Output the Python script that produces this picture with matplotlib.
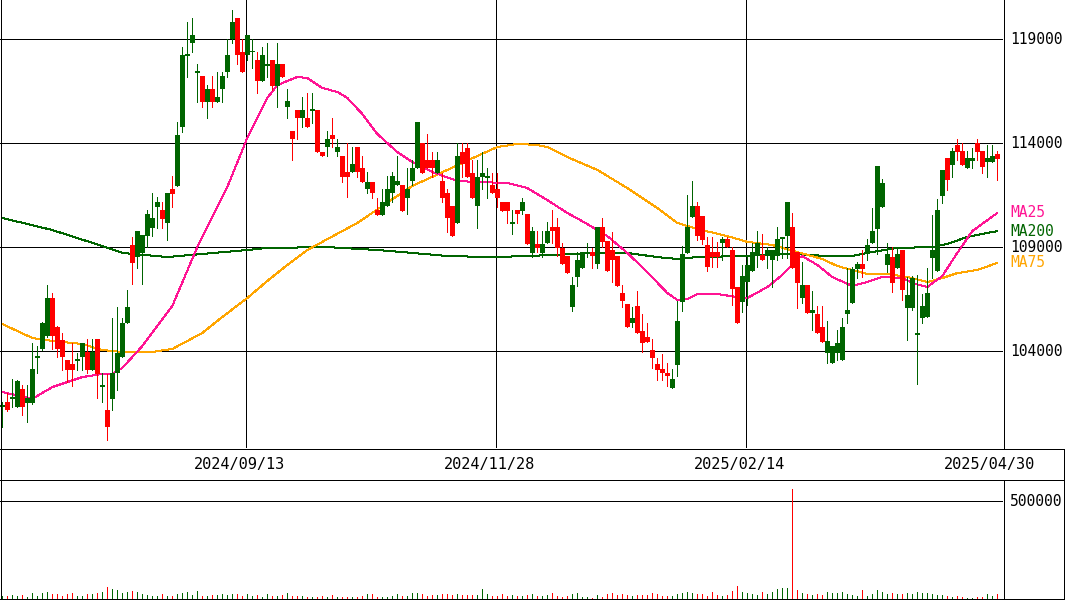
import matplotlib
matplotlib.use("Agg")
import matplotlib.pyplot as plt

# ---------------- data (daily candles, index 0..199) ----------------
opens = [101320,101560,101700,101320,102190,101510,101510,103700,104110,104740,
         106560,105170,104540,103580,103390,103540,103730,103970,103100,104590,
         102290,101180,101710,102950,103730,105360,109100,108530,108720,109540,
         109930,110940,110790,110170,111800,111950,114780,118200,118820,117400,
         117240,115990,116610,115990,116610,117430,119010,120020,118390,118250,
         118380,118010,117000,117720,118010,116760,117810,115750,114590,115600,
         115220,115220,115560,115600,113580,113820,114400,113580,113390,112620,
         112620,113820,112810,111800,112140,110790,110550,110990,111610,112000,
         112000,111370,112190,112810,114010,113200,113200,112570,112190,111610,
         110990,110170,113580,113770,112570,110990,112380,112340,112000,111800,
         111180,111180,110130,110790,110750,110600,108720,109160,108720,109200,
         109980,109980,108970,108580,106130,107570,108010,108690,108770,108200,
         109980,109300,108870,108580,106800,106270,105360,106180,104980,104690,
         104060,103390,103150,102960,102240,103340,106370,108720,110460,110990,
         110500,109110,108770,108770,109200,109400,108870,107090,106370,107330,
         107860,108630,108630,108580,108390,108580,109400,109540,109980,108770,
         106560,107190,105840,105790,105170,103920,103440,103920,103580,105790,
         106320,107960,108200,108680,109200,109880,110940,108150,108530,108010,
         108870,106080,106080,104780,105600,105650,108490,107860,111470,113290,
         112960,113920,113630,112810,113150,114010,113630,113100,113100,113490]
highs = [101560,101990,102670,102600,102380,102380,104400,104250,105400,107190,
         106800,105200,104880,103600,104400,103920,104400,104590,104590,104590,
         102950,102910,105600,106130,105600,106950,109490,109780,109590,110790,
         111610,111420,111180,111610,112430,115020,118630,119830,120020,117810,
         117240,116800,117240,117430,117430,119010,120410,120020,119010,119210,
         119010,118390,118630,118820,118010,118820,117810,116610,114590,115600,
         116230,116420,116420,115600,113580,114590,115220,114210,113390,114010,
         113820,113820,113390,112620,112140,111370,111800,112430,112620,113390,
         112000,112810,113200,115020,114010,114450,113580,113580,112570,111800,
         110990,114010,114010,114010,113200,113200,113580,112810,112570,112570,
         111200,111180,110790,110790,111370,110600,109980,109780,109780,110220,
         110790,110410,109200,108580,107570,108770,108770,109200,108970,109980,
         110410,109300,109730,108580,107190,106270,106130,106900,105790,105360,
         104590,103680,103870,103440,103150,106420,109060,111510,112190,111180,
         110500,109490,109490,109250,109490,109490,109010,107090,108150,108580,
         109200,109780,109640,109010,108870,109980,109490,111180,110650,108770,
         108290,107190,106900,106180,106180,105460,104250,105020,105600,108010,
         108050,108290,108870,109400,110890,112910,112280,109200,109010,109010,
         108870,107570,107620,107670,106750,108010,110550,111320,112720,113290,
         113770,114210,114010,113630,113770,114210,113630,113920,113920,113630]
lows = [100360,101140,101320,101300,100940,100600,101450,102950,104050,104700,
        104110,103730,103100,102520,102330,103100,103100,102950,103100,101750,
        101560,99740,101180,102140,103730,105360,107240,108010,107240,109010,
        109540,109930,109930,109350,110940,111950,114540,117190,118390,115990,
        115750,115220,115750,115990,115990,117190,118820,117810,117430,118010,
        117620,116420,117000,117190,116560,115750,117190,115220,113200,114210,
        114780,114780,114970,113580,113390,113390,113820,113390,112140,111420,
        112620,112380,112140,111610,111370,110550,110550,110990,111180,112000,
        110750,110600,112000,112810,112570,112810,112380,112570,111180,109730,
        109540,110170,112380,112380,111370,109930,111800,111370,111610,110940,
        110750,110170,109640,110170,110600,109160,108530,108770,108530,109200,
        109200,108580,108200,107760,105940,107140,108010,108530,108010,108010,
        109010,107860,107330,107140,106130,105170,105170,104880,103970,104450,
        103200,102620,102620,102330,102240,102810,105940,108720,110460,109350,
        109160,107860,108050,108050,108390,109010,106230,105360,105890,106230,
        107860,108050,108390,108010,107090,108390,108480,108480,108010,106080,
        106320,105840,105020,104880,104450,103440,103440,103580,103580,105360,
        106320,107520,107570,108390,109200,108680,110940,107810,106850,108010,
        106470,104540,105980,102430,105360,105650,107520,107860,111130,111750,
        112380,113200,112960,112810,112810,113200,112570,112380,113100,112230]
closes = [101420,101180,101780,102570,101320,101750,103150,103780,105360,106560,
          104740,104110,103730,103100,103100,103620,104400,103100,103970,102910,
          102390,100360,102950,103920,105360,106130,108230,109780,109590,110600,
          110410,111180,110360,111610,111560,114400,118250,118300,119210,117480,
          115990,116610,115990,116230,117240,118250,119830,118250,117430,119210,
          118460,117000,118250,117810,116760,117810,117190,116040,114210,115220,
          115600,114780,115640,113580,113390,114210,114210,113820,112380,112380,
          113000,112620,112140,112140,111610,110550,111180,111800,112430,112190,
          110750,111800,112810,115020,112570,112810,112810,113200,111370,110410,
          109540,113390,113000,112380,111370,112380,112570,112420,111610,111370,
          110750,110750,110210,110600,111180,109160,109780,108970,109160,109780,
          109780,108970,108200,107760,107190,108390,108770,108770,108580,109980,
          109260,107860,108390,107140,106420,105170,105600,104880,104400,104450,
          103680,103100,102960,102810,102670,105460,108680,109980,110990,109540,
          109350,108050,108530,108530,109400,109010,107000,105360,107620,108150,
          108770,109200,108390,108870,108870,109400,109490,111180,108010,107280,
          107190,105840,105980,104880,104450,104500,104250,104400,105170,105980,
          107960,108200,107960,109110,109780,112910,112090,108680,107280,108680,
          106950,106700,107520,104880,106180,106800,108870,110790,112720,112230,
          113630,113580,112960,113290,113290,113580,112860,113290,113390,113240]
volumes = [17000,17000,22100,17000,22100,11900,32300,17000,32300,37400,
           27200,27200,17000,27200,32300,17000,17000,27200,27200,32300,
           37400,62900,52700,47600,32300,37400,42500,37400,27200,22100,
           17000,17000,27200,17000,17000,27200,32300,37400,22100,42500,
           17000,17000,22100,22100,27200,22100,27200,27200,17000,27200,
           17000,22100,11900,27200,17000,17000,22100,32300,17000,17000,
           17000,11900,11900,11900,17000,11900,22100,11900,11900,11900,
           11900,11900,17000,27200,27200,11900,11900,11900,17000,27200,
           17000,17000,32300,32300,27200,17000,22100,22100,27200,27200,
           22100,27200,22100,22100,22100,22100,52700,27200,17000,17000,
           27200,17000,22100,17000,17000,22100,27200,17000,17000,22100,
           32300,17000,11900,17000,27200,32300,11900,11900,6800,22100,
           11900,27200,32300,22100,27200,22100,17000,22100,22100,22100,
           32300,27200,17000,17000,17000,27200,32300,37400,32300,27200,
           27200,17000,37400,22100,17000,22100,42500,68000,37400,32300,
           27200,22100,37400,27200,37400,52700,57800,57800,563000,47600,
           32300,27200,22100,27200,22100,37400,32300,32300,37400,27200,
           22100,17000,47600,17000,27200,47600,37400,27200,32300,27200,
           27200,32300,27200,37400,32300,32300,27200,22100,22100,17000,
           11900,17000,11900,6800,6800,11900,11900,27200,17000,27200]

# moving averages, sampled at candle indices
ma25_idx = [0,6,10,16,20,22,24,28,34,39,45,49,53,55,59,61,64,67,69,72,
            75,79,82,86,91,95,101,105,109,113,117,121,125,129,133,135,137,139,143,147,
            149,153,156,159,160,163,166,170,173,176,180,182,185,188,191,194,199]
ma25 = [102040,101710,102280,102760,102910,102910,103200,104250,106180,109010,
        111900,114260,116180,116800,117190,117140,116660,116470,116180,115410,
        114450,113580,113100,112620,112190,112140,112090,111850,111270,110650,
        110120,109540,108730,107810,106800,106470,106510,106750,106750,106610,
        106560,107090,107670,108440,108580,108150,107570,107140,107330,107570,
        107520,107280,107090,107620,108730,109780,110650]
ma75_idx = [0,6,10,16,20,24,30,34,40,44,49,53,57,61,71,79,82,89,95,99,
            103,107,109,113,119,125,131,135,139,145,149,154,159,164,167,173,177,181,185,188,
            191,195,199]
ma75 = [105310,104640,104500,104350,104060,103970,103970,104110,104880,105650,
        106560,107380,108150,108870,110170,111470,111950,112720,113390,113820,
        113970,113920,113820,113340,112720,111850,110890,110170,109880,109540,
        109260,109110,108770,108440,108100,107720,107720,107570,107330,107520,
        107760,107910,108250]
ma200_idx = [0,10,20,24,33,40,49,53,65,75,82,89,98,105,119,125,131,135,139,148,
             158,165,170,173,179,186,189,193,199]
ma200 = [110410,109830,109060,108730,108530,108680,108870,108970,109010,108870,
         108730,108580,108530,108580,108730,108730,108530,108440,108530,108580,
         108680,108580,108580,108730,108970,109010,109160,109500,109780]

price_ticks = [104000, 109000, 114000, 119000]
price_labels = ["104000", "109000", "114000", "119000"]
vol_ticks = [500000]
vol_labels = ["500000"]
date_idx = [49, 99, 149, 199]
date_labels = ["2024/09/13", "2024/11/28", "2025/02/14", "2025/04/30"]

# ---------------- styling ----------------
UP = "#006400"
DOWN = "#ff0000"
C25 = "#ff1493"
C75 = "#ffa500"
C200 = "#006400"
PX = 0.72  # one pixel in points
MONO = "DejaVu Sans Mono"

W, H = 1065, 600
fig = plt.figure(figsize=(W / 100, H / 100), dpi=100)
fig.patch.set_facecolor("white")


def rect(x0, y0, x1, y1):
    return [x0 / W, 1 - y1 / H, (x1 - x0) / W, (y1 - y0) / H]


ax = fig.add_axes(rect(0, 0, 1003, 448))
axv = fig.add_axes(rect(0, 479, 1003, 599.3))
for a in (ax, axv):
    a.set_xlim(-0.46, 200.14)
    a.set_xticks([])
    a.set_yticks([])
    for s in a.spines.values():
        s.set_visible(False)
    a.patch.set_alpha(0)
ax.set_ylim(99350, 120890)
axv.set_ylim(0, 612000)

n = len(opens)
xs = list(range(n))

# grid
for p in price_ticks:
    ax.axhline(p, color="black", lw=PX, zorder=1, antialiased=False)
for d in date_idx[:-1]:
    ax.axvline(d - 0.3, color="black", lw=PX, zorder=1, antialiased=False)
for v in vol_ticks:
    axv.axhline(v, color="black", lw=PX, zorder=1, antialiased=False)

# moving averages
ax.plot(ma200_idx, ma200, color=C200, lw=PX, zorder=2, antialiased=False)
ax.plot(ma75_idx, ma75, color=C75, lw=PX, zorder=2, antialiased=False)
ax.plot(ma25_idx, ma25, color=C25, lw=PX, zorder=2, antialiased=False)

# candles
cols = [UP if c >= o else DOWN for o, c in zip(opens, closes)]
ax.vlines(xs, lows, highs, colors=cols, lw=PX, zorder=3, antialiased=False)
bottoms = [min(o, c) for o, c in zip(opens, closes)]
heights = [max(abs(c - o), 60) for o, c in zip(opens, closes)]
ax.bar(xs, heights, bottom=bottoms, width=0.9, color=cols, linewidth=0,
       zorder=4, antialiased=False)

# volume
axv.vlines(xs, 0, volumes, colors=cols, lw=PX, antialiased=False)

# right-hand labels
ytr = ax.get_yaxis_transform()
for p, lab in zip(price_ticks, price_labels):
    ax.text(1010 / 1003, p, lab, transform=ytr,
            ha="left", va="center", fontsize=10.5, family=MONO, color="black")
for v, lab in zip(vol_ticks, vol_labels):
    axv.text(1010 / 1003, v, lab, transform=axv.get_yaxis_transform(),
             ha="left", va="center", fontsize=10.5, family=MONO, color="black")
ax.text(1010 / 1003, ma25[-1], "MA25", transform=ytr,
        ha="left", va="center", fontsize=10.5, family=MONO, color=C25)
ax.text(1010 / 1003, ma200[-1], "MA200", transform=ytr,
        ha="left", va="center", fontsize=10.5, family=MONO, color=C200)
ax.text(1010 / 1003, ma75[-1], "MA75", transform=ytr,
        ha="left", va="center", fontsize=10.5, family=MONO, color=C75)

# date labels
for d, lab in zip(date_idx, date_labels):
    ax.text(d - 1.6, -(464 - 448) / 448, lab, transform=ax.get_xaxis_transform(),
            ha="center", va="center", fontsize=11, family=MONO, color="black")

# frame lines (pixel overlay)
ov = fig.add_axes([0, 0, 1, 1])
ov.set_xlim(0, W)
ov.set_ylim(H, 0)
ov.axis("off")
ov.patch.set_alpha(0)
segs = [((0, 1065), (448.5, 448.5)), ((0, 1065), (479.5, 479.5)),
        ((0, 1065), (599.3, 599.3)), ((0.8, 0.8), (0, 600)),
        ((1003.5, 1003.5), (0, 448.5)), ((1003.5, 1003.5), (479.5, 600)),
        ((1064.3, 1064.3), (448.5, 600))]
for xx, yy in segs:
    ov.plot(xx, yy, color="black", lw=PX, antialiased=False)

fig.savefig("out.png", dpi=100, facecolor="white")
